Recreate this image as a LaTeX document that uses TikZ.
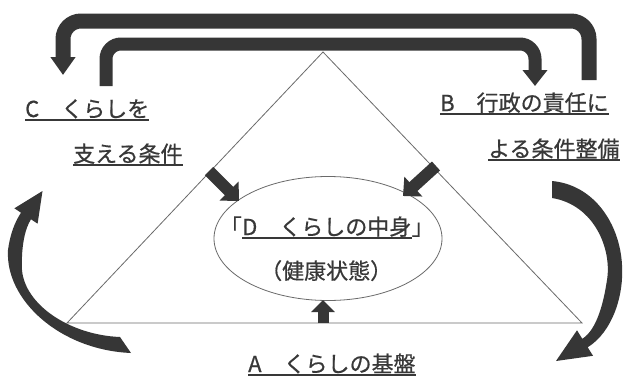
\documentclass[tikz,border=0pt]{standalone}
\usepackage{fontspec}
\setmainfont[FakeBold=0.6]{Noto Sans CJK JP}
\usetikzlibrary{arrows.meta,shapes.geometric}
\definecolor{textgray}{HTML}{383838}
\definecolor{linegray}{HTML}{6A6A6A}
\definecolor{arrowgray}{HTML}{363636}
\begin{document}
\begin{tikzpicture}[x=1pt,y=-1pt,
  txt/.style={inner sep=0pt, anchor=base west, font=\fontsize{22}{26}\selectfont, text=textgray},
  ul/.style={draw=textgray, line width=1.3pt},
  thinline/.style={draw=linegray, line width=0.8pt},
  band/.style={draw=arrowgray, line width=14pt},
  blk/.style={draw=arrowgray, line width=12pt, -{Triangle[length=14pt,width=26pt]}},
  crescent/.style={fill=arrowgray},
]
\useasboundingbox[fill=white] (0,0) rectangle (627,378);

% triangle
\coordinate (tl) at (67,323);
\coordinate (tr) at (582,323);
\coordinate (tt) at (323,52);
\draw[thinline] (tl) -- (tt) -- (tr) -- cycle;

% ellipse
\node[thinline, ellipse, minimum width=228pt, minimum height=124pt, inner sep=0pt] (ell) at (328,238.5) {};

% arrows into the ellipse
\coordinate (dlA) at (209,171); \coordinate (dlB) at (239,201);
\draw[blk] (dlA) -- (dlB);
\coordinate (drA) at (436,166); \coordinate (drB) at (403,196);
\draw[blk] (drA) -- (drB);
\coordinate (buA) at (323,323); \coordinate (buB) at (323,300);
\draw[blk, line width=11pt, -{Triangle[length=12pt,width=23pt]}] (buA) -- (buB);

% top bands
\coordinate (o1) at (589,80); \coordinate (o2) at (589,21);
\coordinate (o3) at (63,21);  \coordinate (o4) at (63,75);
\draw[band, line width=15pt, rounded corners=18pt, -{Triangle[length=18pt,width=24pt]}] (o1) -- (o2) -- (o3) -- (o4);
\coordinate (i1) at (106,86); \coordinate (i2) at (106,44);
\coordinate (i3) at (535,44); \coordinate (i4) at (535,86);
\draw[band, line width=13pt, rounded corners=15pt, -{Triangle[length=16pt,width=24pt]}] (i1) -- (i2) -- (i3) -- (i4);

% curved arrows (tapered)
\coordinate (clT1) at (120,337); \coordinate (clT2) at (131,353);
\coordinate (clB1) at (14.4,208.3); \coordinate (clTip) at (42.5,191); \coordinate (clB2) at (37.6,223.7);
\fill[crescent] (clT1) -- (clT2)
  .. controls (60,350) and (5,300) .. (8,250)
  .. controls (10,235) and (14.4,222.7) .. (21,212.7)
  -- (clB1) -- (clTip) -- (clB2) -- (31,219.3)
  .. controls (25.5,227.6) and (21,245) .. (22,270)
  .. controls (25,305) and (70,335) .. (clT1) -- cycle;

\coordinate (crT1) at (552,181); \coordinate (crT2) at (552,198);
\coordinate (crB1) at (577,330.3); \coordinate (crTip) at (556,361); \coordinate (crB2) at (593,355.8);
\fill[crescent] (crT1) -- (crT2)
  .. controls (595,205) and (612,250) .. (607,280)
  .. controls (604,300) and (597.6,329.3) .. (582.3,338.8)
  -- (crB1) -- (crTip) -- (crB2) -- (587.7,347.3)
  .. controls (612.7,331.7) and (624,295) .. (622,265)
  .. controls (620,225) and (595,185) .. (crT1) -- cycle;

% texts
\node[txt] (cA) at (25,117) {C　くらしを};
\node[txt] (cB) at (73,162) {支える条件};
\node[txt] (bA) at (440,111) {B　行政の責任に};
\node[txt] (bB) at (488,157) {よる条件整備};
\node[txt] (aA) at (248,372) {A　くらしの基盤};
\node[txt] (dA) at (242,235) {D　くらしの中身};
\node[txt, anchor=base east] (dL) at (dA.base west) {「};
\node[txt] (dR) at (dA.base east) {」};
\node[txt] (hA) at (260,279) {（健康状態）};

\foreach \n in {cA,cB,bA,bB,aA,dA}
  \draw[ul] ([yshift=-3pt]\n.base west) -- ([yshift=-3pt]\n.base east);
\end{tikzpicture}
\end{document}
